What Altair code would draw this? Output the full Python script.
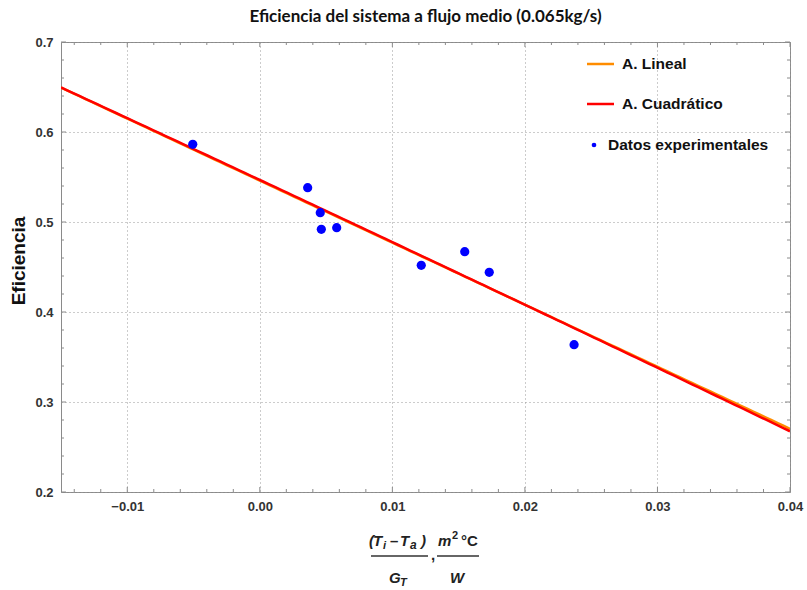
import altair as alt
import numpy as np
import pandas as pd

# Measured points: (Ti - Ta)/G_T  [m2 °C / W]  vs. efficiency
x_data = [-0.00506, 0.00361, 0.00456, 0.00464, 0.00580, 0.01218, 0.01546, 0.01731, 0.02371]
eff_data = [0.5863, 0.5381, 0.5103, 0.4919, 0.4937, 0.4519, 0.4670, 0.4441, 0.3637]

# Quadratic efficiency model: eta = a0 + a1*x + a2*x^2
quad_coef = [0.54674, -6.886, -2.38]

x_major = [-0.01, 0.0, 0.01, 0.02, 0.03, 0.04]
y_major = [0.2, 0.3, 0.4, 0.5, 0.6, 0.7]

X_DOM = [-0.015, 0.04]
Y_DOM = [0.2, 0.7]
W, H = 729, 450

BLUE = "#0000FF"
ORANGE = "#FF8C00"
RED = "#FF0000"
FRAME = "#8a8a8a"
LABEL_FONT = "Liberation Sans"

# Linear least-squares fit over the measured points
lin = np.polyfit(x_data, eff_data, 1)
xs = np.linspace(X_DOM[0], X_DOM[1], 120)
quad_y = quad_coef[0] + quad_coef[1] * xs + quad_coef[2] * xs ** 2
fits = pd.DataFrame({
    "x": np.concatenate([xs, xs]),
    "y": np.concatenate([np.polyval(lin, xs), quad_y]),
    "fit": ["A. Lineal"] * len(xs) + ["A. Cuadrático"] * len(xs),
})
points = pd.DataFrame({"x": x_data, "y": eff_data})

xs_scale = alt.Scale(domain=X_DOM, nice=False, zero=False)
ys_scale = alt.Scale(domain=Y_DOM, nice=False, zero=False)

grid_style = dict(grid=True, gridDash=[1, 3], gridColor="#999999", gridWidth=1)
label_style = dict(labelFont=LABEL_FONT, labelFontSize=13, labelFontWeight="bold",
                   labelColor="#333333", labelPadding=8, labelOverlap=False,
                   labelFlush=False, labelBound=False)

x_axis = alt.Axis(values=x_major, format=".2f", title=None, ticks=False, domain=False,
                  **grid_style, **label_style)
y_axis = alt.Axis(values=y_major, format=".1f", title=None, ticks=False, domain=False,
                  **grid_style, **label_style)

base_axes = alt.Chart(points).mark_point(opacity=0).encode(
    x=alt.X("x:Q", scale=xs_scale, axis=x_axis),
    y=alt.Y("y:Q", scale=ys_scale, axis=y_axis),
)

lin_line = alt.Chart(fits[fits.fit == "A. Lineal"]).mark_line(
    color=ORANGE, strokeWidth=2.5, clip=True).encode(
    x=alt.X("x:Q", scale=xs_scale), y=alt.Y("y:Q", scale=ys_scale))
quad_line = alt.Chart(fits[fits.fit == "A. Cuadrático"]).mark_line(
    color=RED, strokeWidth=2.5, clip=True).encode(
    x=alt.X("x:Q", scale=xs_scale), y=alt.Y("y:Q", scale=ys_scale))

dots = alt.Chart(points).mark_circle(color=BLUE, opacity=1, size=85).encode(
    x=alt.X("x:Q", scale=xs_scale), y=alt.Y("y:Q", scale=ys_scale))

# Inward frame ticks on all four sides
x_minor = [round(-0.014 + 0.002 * i, 3) for i in range(27)]
x_minor = [v for v in x_minor if all(abs(v - m) > 1e-9 for m in x_major)]
y_minor = [round(0.2 + 0.02 * i, 2) for i in range(26)]
y_minor = [v for v in y_minor if all(abs(v - m) > 1e-9 for m in y_major)]


def xticks(vals, length):
    df = pd.DataFrame({"x": vals})
    bottom = alt.Chart(df).mark_rule(color=FRAME, strokeWidth=1).encode(
        x=alt.X("x:Q", scale=xs_scale), y=alt.value(H), y2=alt.value(H - length))
    top = alt.Chart(df).mark_rule(color=FRAME, strokeWidth=1).encode(
        x=alt.X("x:Q", scale=xs_scale), y=alt.value(0), y2=alt.value(length))
    return [bottom, top]


def yticks(vals, length):
    df = pd.DataFrame({"y": vals})
    left = alt.Chart(df).mark_rule(color=FRAME, strokeWidth=1).encode(
        y=alt.Y("y:Q", scale=ys_scale), x=alt.value(0), x2=alt.value(length))
    right = alt.Chart(df).mark_rule(color=FRAME, strokeWidth=1).encode(
        y=alt.Y("y:Q", scale=ys_scale), x=alt.value(W), x2=alt.value(W - length))
    return [left, right]


tick_layers = (xticks(x_major, 5) + xticks(x_minor, 3)
               + yticks(y_major, 5) + yticks(y_minor, 3))

one = pd.DataFrame({"k": [0]})


def text(t, x, y, size=15, style="normal", weight="bold", align="left",
         baseline="alphabetic", angle=0, font=LABEL_FONT, color="#222222"):
    return alt.Chart(one).mark_text(
        text=t, align=align, baseline=baseline, fontSize=size, fontStyle=style,
        fontWeight=weight, font=font, color=color, angle=angle,
    ).encode(x=alt.value(x), y=alt.value(y))


def hbar(x1, x2, y, color="#333333", width=1.4):
    return alt.Chart(one).mark_rule(color=color, strokeWidth=width).encode(
        x=alt.value(x1), x2=alt.value(x2), y=alt.value(y))


title = text("Eficiencia del sistema a flujo medio (0.065kg/s)", W / 2, -25,
             size=17, align="center", baseline="middle", font="Lato", color="#111111")
ytitle = text("Eficiencia", -42, 219, size=19, align="center", baseline="middle",
              angle=270, color="#111111")

# Legend
legend = [
    hbar(526, 553, 22, color=ORANGE, width=2.5),
    text("A. Lineal", 561, 22, size=15.5, baseline="middle", color="#111111"),
    hbar(526, 553, 62, color=RED, width=2.5),
    text("A. Cuadrático", 561, 62, size=15.5, baseline="middle", color="#111111"),
    alt.Chart(one).mark_circle(color=BLUE, opacity=1, size=22).encode(
        x=alt.value(533), y=alt.value(103)),
    text("Datos experimentales", 547, 103, size=15.5, baseline="middle", color="#111111"),
]

# X-axis title: (Ti - Ta)/G_T , m^2 °C / W
xtitle = [
    text("(", 308, 504, style="italic"),
    text("T", 312, 504, style="italic"),
    text("i", 322, 507, size=11, style="italic"),
    text("–", 329, 504),
    text("T", 339, 504, style="italic"),
    text("a", 349, 507, size=12, style="italic"),
    text(")", 360, 504, style="italic"),
    hbar(310, 367, 514),
    text("G", 328, 541, style="italic"),
    text("T", 339, 544, size=11, style="italic"),
    text(",", 370, 518),
    text("m", 377, 504, style="italic"),
    text("2", 391, 497, size=11),
    text("°C", 400, 504),
    hbar(376, 418, 514),
    text("W", 389, 541, style="italic"),
]

chart = alt.layer(
    base_axes, *tick_layers, lin_line, quad_line, dots, title, ytitle, *legend, *xtitle
).properties(
    width=W, height=H,
    autosize=alt.AutoSizeParams(type="none"),
    padding={"left": 61, "top": 42, "right": 17, "bottom": 98},
    background="white",
).configure_view(stroke=FRAME, strokeWidth=1)

chart.save("out.html", embed_options={"renderer": "svg", "actions": False})
